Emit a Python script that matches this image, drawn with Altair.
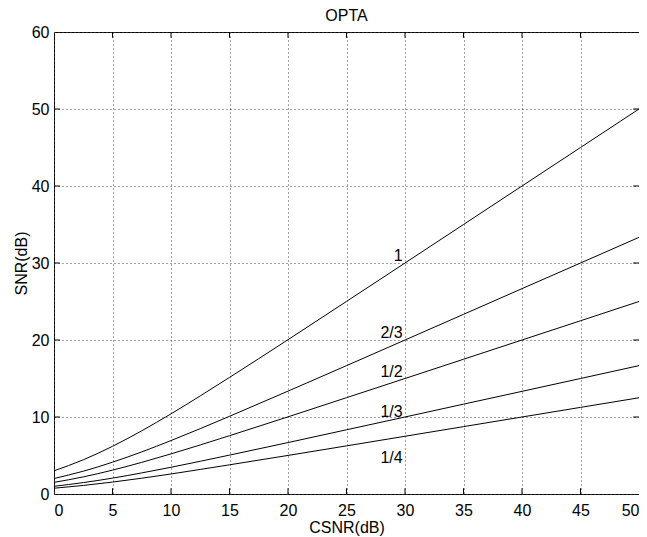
import altair as alt
import pandas as pd

csnr = [0, 2.5, 5, 7.5, 10, 12.5, 15, 20, 25, 30, 35, 40, 45, 50]
snr_1 = [3.01, 4.44, 6.19, 8.21, 10.41, 12.74, 15.14, 20.04, 25.01, 30.0, 35.0, 40.0, 45.0, 50.0]
snr_23 = [2.01, 2.96, 4.13, 5.47, 6.94, 8.49, 10.09, 13.36, 16.67, 20.0, 23.33, 26.67, 30.0, 33.33]
snr_12 = [1.51, 2.22, 3.10, 4.11, 5.21, 6.37, 7.57, 10.02, 12.51, 15.0, 17.5, 20.0, 22.5, 25.0]
snr_13 = [1.00, 1.48, 2.06, 2.74, 3.47, 4.25, 5.05, 6.68, 8.34, 10.0, 11.67, 13.33, 15.0, 16.67]
snr_14 = [0.75, 1.11, 1.55, 2.05, 2.60, 3.19, 3.79, 5.01, 6.25, 7.5, 8.75, 10.0, 11.25, 12.5]

series_names = ["1", "2/3", "1/2", "1/3", "1/4"]
series_vals = [snr_1, snr_23, snr_12, snr_13, snr_14]

label_x = [29.8, 29.8, 29.8, 29.8, 29.8]
label_y = [30.3, 20.3, 15.2, 10.0, 4.0]

xticks = [0, 5, 10, 15, 20, 25, 30, 35, 40, 45, 50]
yticks = [0, 10, 20, 30, 40, 50, 60]

rows = []
for name, vals in zip(series_names, series_vals):
    for x, y in zip(csnr, vals):
        rows.append({"csnr": x, "snr": y, "rate": name})
df = pd.DataFrame(rows)

lab = pd.DataFrame({"x": label_x, "y": label_y, "t": series_names})

xs = alt.Scale(domain=[0, 50], nice=False, zero=False)
ys = alt.Scale(domain=[0, 60], nice=False, zero=False)

FONT = "Liberation Sans"
FS = 16

base_lines = alt.Chart(df).mark_line(color="black", strokeWidth=1, interpolate="monotone").encode(
    x=alt.X("csnr:Q", scale=xs,
            axis=alt.Axis(values=xticks, title="CSNR(dB)", grid=True, tickSize=0, labelPadding=8,
                          domain=False, titlePadding=1)),
    y=alt.Y("snr:Q", scale=ys,
            axis=alt.Axis(values=yticks, title="SNR(dB)", grid=True, tickSize=0, labelPadding=5,
                          domain=False, titlePadding=2)),
    detail="rate:N",
)

labels = alt.Chart(lab).mark_text(align="right", baseline="alphabetic", font=FONT, fontSize=FS,
                                  color="black").encode(
    x=alt.X("x:Q", scale=xs), y=alt.Y("y:Q", scale=ys), text="t:N")

xt = pd.DataFrame({"x": xticks[1:-1]})
yt = pd.DataFrame({"y": yticks[1:-1]})

tick_b = alt.Chart(xt).mark_rule(color="black", strokeWidth=1).encode(
    x=alt.X("x:Q", scale=xs), y=alt.datum(0, scale=ys), y2=alt.datum(0.75))
tick_t = alt.Chart(xt).mark_rule(color="black", strokeWidth=1).encode(
    x=alt.X("x:Q", scale=xs), y=alt.datum(60, scale=ys), y2=alt.datum(59.25))
tick_l = alt.Chart(yt).mark_rule(color="black", strokeWidth=1).encode(
    y=alt.Y("y:Q", scale=ys), x=alt.datum(0, scale=xs), x2=alt.datum(0.5))
tick_r = alt.Chart(yt).mark_rule(color="black", strokeWidth=1).encode(
    y=alt.Y("y:Q", scale=ys), x=alt.datum(50, scale=xs), x2=alt.datum(49.5))

chart = alt.layer(base_lines, tick_b, tick_t, tick_l, tick_r, labels).properties(
    width=585, height=462,
    title=alt.TitleParams("OPTA", font=FONT, fontSize=FS, fontWeight="normal", color="black",
                          frame="group", offset=0),
    autosize=alt.AutoSizeParams(type="none"),
    padding={"left": 46, "top": 24, "right": 0, "bottom": 44},
    background="white",
).configure_view(
    stroke="black", strokeWidth=1
).configure_axis(
    labelFont=FONT, labelFontSize=FS, labelColor="black",
    titleFont=FONT, titleFontSize=FS, titleFontWeight="normal", titleColor="black",
    gridColor="#444", gridDash=[1, 3], gridWidth=1, gridOpacity=1,
)

chart.save("out.html", embed_options={"renderer": "svg", "actions": False})
